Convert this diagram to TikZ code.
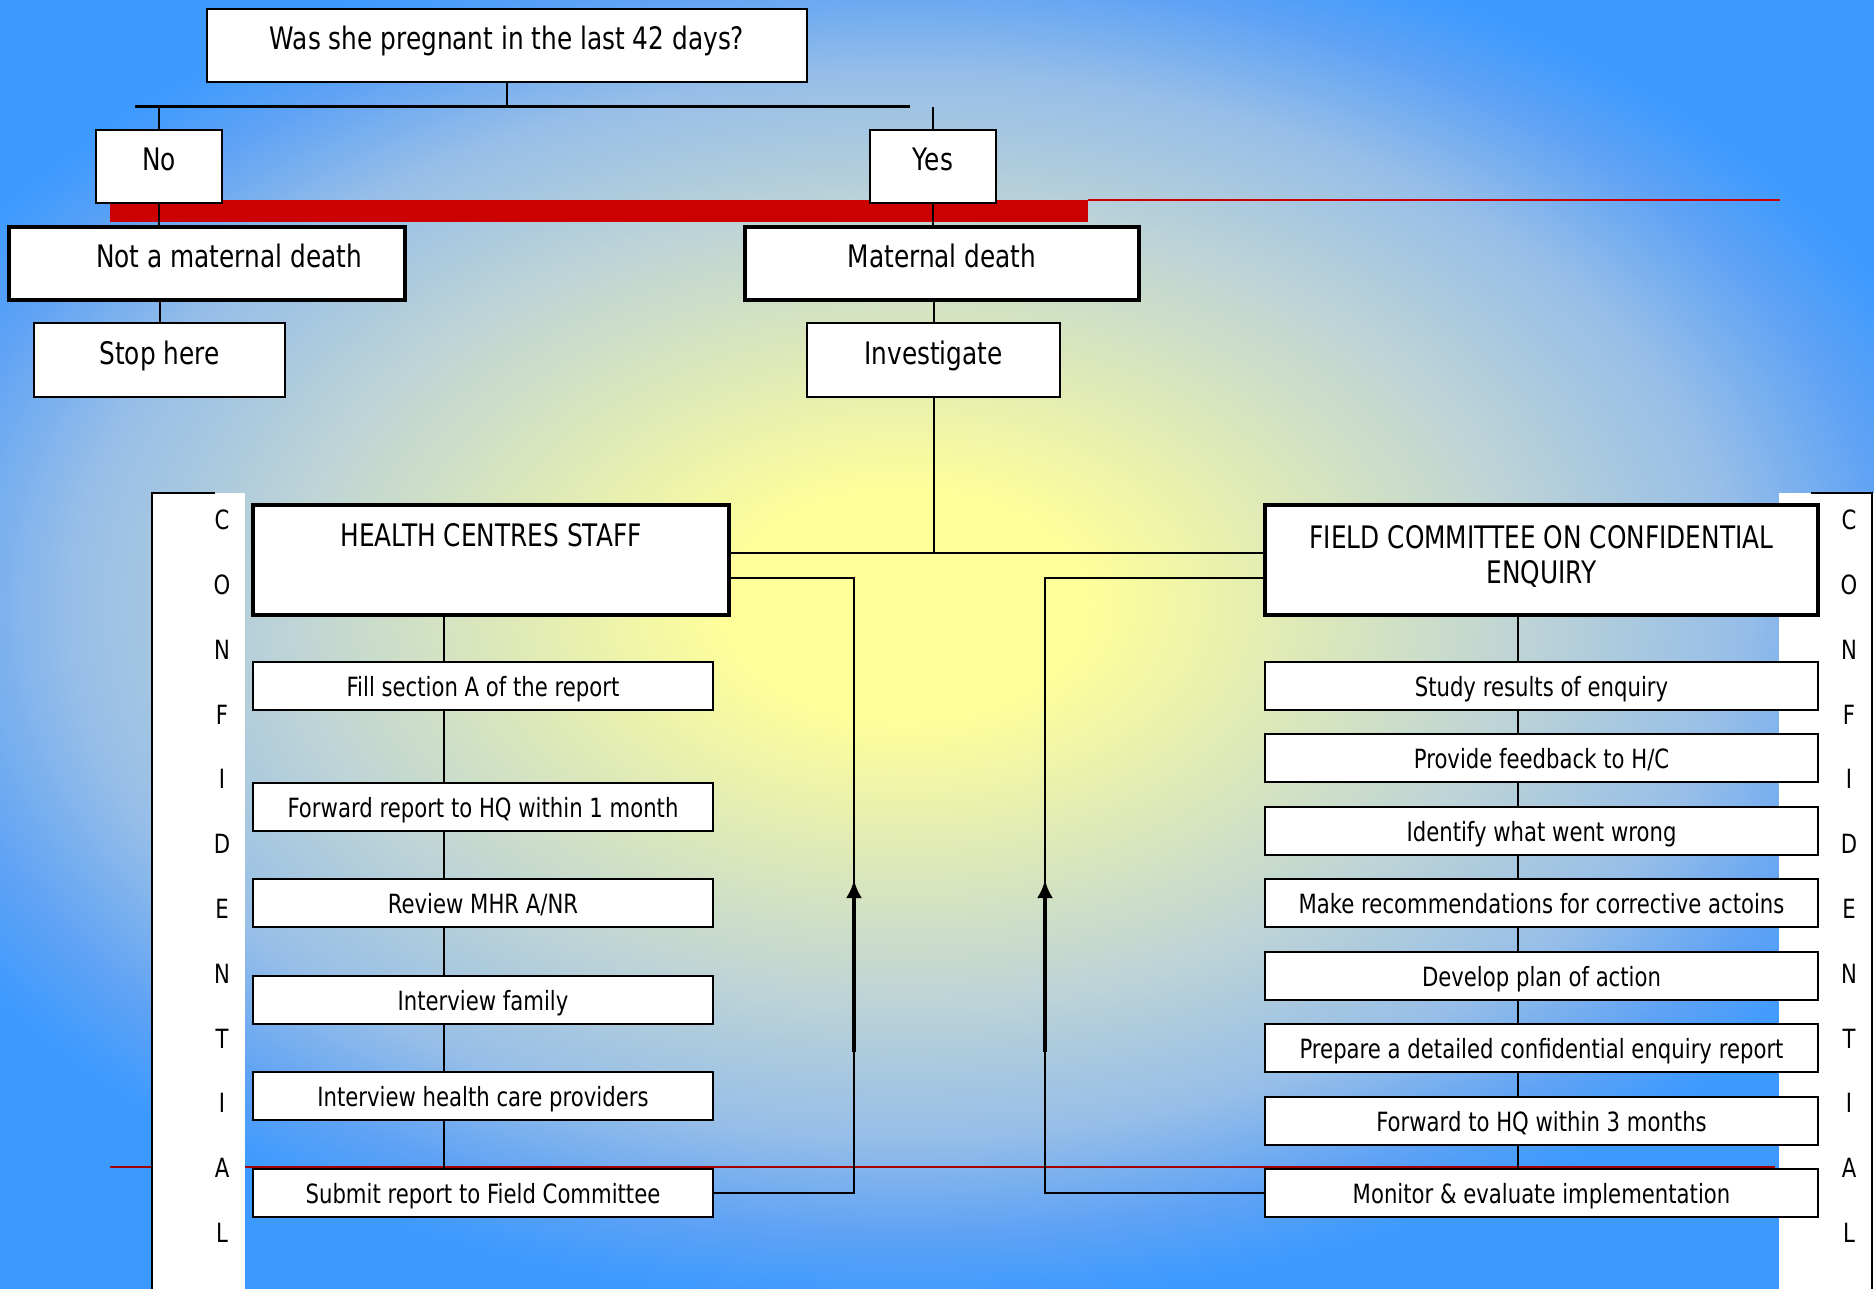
\documentclass[tikz,border=0pt]{standalone}
\usepackage{fontspec}
\setmainfont{DejaVu Sans}[FakeStretch=0.8]
\usetikzlibrary{arrows.meta,positioning,calc}

\definecolor{bgblue}{RGB}{60,154,255}
\definecolor{glowA}{RGB}{255,255,153}
\definecolor{glowB}{RGB}{190,212,214}
\definecolor{glowC}{RGB}{150,190,232}
\definecolor{glowD}{RGB}{94,162,245}
\definecolor{barred}{RGB}{204,0,0}
\pgfdeclareradialshading{glow}{\pgfpoint{0bp}{0bp}}{color(0bp)=(glowA); color(4bp)=(glowA); color(14bp)=(glowB); color(19bp)=(glowC); color(22.5bp)=(glowD); color(25bp)=(bgblue); color(50bp)=(bgblue)}

\newcommand\bigtxt{\fontsize{31}{35}\selectfont}
\newcommand\steptxt{\fontsize{26.5}{30}\selectfont}

\begin{document}
\begin{tikzpicture}[x=1pt,y=-1pt,>={Latex[length=18pt,width=16pt]},
  qbox/.style={draw=black,fill=white,line width=2pt,inner sep=0pt,font=\bigtxt,
               minimum height=73pt,text height=24pt,text depth=15pt},
  thickbox/.style={qbox,line width=4pt},
  teambox/.style={draw=black,fill=white,line width=4pt,inner sep=0pt,font=\bigtxt,
                  minimum height=110pt,align=center},
  stepbox/.style={draw=black,fill=white,line width=2pt,inner sep=0pt,font=\steptxt,
                  minimum height=48pt,text height=27pt,text depth=7pt},
  letter/.style={font=\steptxt,inner sep=0pt},
  wire/.style={draw=black,line width=2pt},
  busline/.style={draw=black,line width=3pt},
  backarrow/.style={draw=black,line width=4pt,->}]

% ---- background ----
\useasboundingbox (0,0) rectangle (1874,1289);
\fill[bgblue] (0,0) rectangle (1874,1289);
\shade[shading=glow] (905,605) ellipse (1100 and 700);

% ---- red bar and red rules ----
\fill[barred] (110,200) rectangle (1088,222);
\draw[barred,line width=2pt] (1088,200) -- (1780,200);
\draw[barred!80!black,line width=1.2pt] (110,1167) -- (1775,1167);

% ---- CONFIDENTIAL strips ----
\fill[white] (152,493) rectangle (245,1289);
\draw[line width=2pt] (215,493) -- (152,493) -- (152,1289);
\fill[white] (1779,493) rectangle (1874,1289);
\draw[line width=2pt] (1811,493) -- (1872,493) -- (1872,1289);
\foreach \ch [count=\i from 0] in {C,O,N,F,I,D,E,N,T,I,A,L}{
  \node[letter] (cl\i) at (222,520+64.8*\i) {\ch};
  \node[letter] (cr\i) at (1849,520+64.8*\i) {\ch};
}

% ---- decision tree ----
\node[qbox,minimum width=600pt] (q) at (507,45.5) {Was she pregnant in the last 42 days?};
\node[qbox,minimum width=126pt] (no) at (159,166.5) {No};
\node[qbox,minimum width=126pt] (yes) at (933,166.5) {Yes};
\node[thickbox,minimum width=396pt] (nmd) at (207,263.5) {\hspace*{44pt}Not a maternal death};
\node[thickbox,minimum width=394pt] (md) at (942,263.5) {Maternal death};
\node[qbox,minimum width=251pt,minimum height=74pt] (stop) at (159.5,360) {Stop here};
\node[qbox,minimum width=253pt,minimum height=74pt] (inv) at (933.5,360) {Investigate};

\coordinate (busL) at (135,107);
\coordinate (busR) at (910,107);
\draw[busline] (busL) -- (busR);
\draw[wire] (q.south) -- (q.south |- busL);
\draw[wire] (no.north) -- (no.north |- busL);
\draw[wire] (yes.north) -- (yes.north |- busL);
\draw[wire] (no.south) -- (no.south |- nmd.north);
\draw[wire] (yes.south) -- (yes.south |- md.north);
\draw[wire] (stop.north |- nmd.south) -- (stop.north);
\draw[wire] (inv.north |- md.south) -- (inv.north);

% ---- the two teams ----
\node[teambox,minimum width=476pt] (hcs) at (491,560)
  {HEALTH CENTRES STAFF\\[16pt]~};
\node[teambox,minimum width=553pt] (fce) at (1541.5,560)
  {FIELD COMMITTEE ON CONFIDENTIAL\\ENQUIRY\\[-24pt]~};

\coordinate (hub) at (933,553);
\draw[wire] (inv.south) -- (inv.south |- hub);
\draw[wire] (hcs.east |- hub) -- (fce.west |- hub);

% ---- health centre steps ----
\foreach \t/\y [count=\i] in {{Fill section A of the report}/686,
    {Forward report to HQ within 1 month}/807, {Review MHR A/NR}/903,
    {Interview family}/1000, {Interview health care providers}/1096,
    {Submit report to Field Committee}/1193}
  \node[stepbox,minimum width=460pt] (hs\i) at (483,\y) {\t};

\coordinate (hchain) at (444,0);
\draw[wire] (hchain |- hcs.south) -- (hchain |- hs1.north);
\foreach \i/\j in {1/2,2/3,3/4,4/5,5/6}
  \draw[wire] (hchain |- hs\i.south) -- (hchain |- hs\j.north);

% ---- field committee steps ----
\foreach \t/\y [count=\i] in {{Study results of enquiry}/686,
    {Provide feedback to H/C}/758, {Identify what went wrong}/831,
    {Make recommendations for corrective actoins}/903,
    {Develop plan of action}/976,
    {Prepare a detailed confidential enquiry report}/1048,
    {Forward to HQ within 3 months}/1121,
    {Monitor \& evaluate implementation}/1193}
  \node[stepbox,minimum width=553pt] (fs\i) at (1541.5,\y) {\t};

\coordinate (fchain) at (1518,0);
\draw[wire] (fchain |- fce.south) -- (fchain |- fs1.north);
\foreach \i/\j in {1/2,2/3,3/4,4/5,5/6,6/7,7/8}
  \draw[wire] (fchain |- fs\i.south) -- (fchain |- fs\j.north);

% ---- feedback loops ----
\coordinate (loopL) at (854,578);
\draw[wire] (hs6.east) -| (loopL) -- (loopL -| hcs.east);
\coordinate (upL) at (854,1052);
\coordinate (tipL) at (854,880);
\draw[backarrow] (upL) -- (tipL);

\coordinate (loopR) at (1045,578);
\draw[wire] (fs8.west) -| (loopR) -- (loopR -| fce.west);
\coordinate (upR) at (1045,1052);
\coordinate (tipR) at (1045,880);
\draw[backarrow] (upR) -- (tipR);
\end{tikzpicture}
\end{document}
